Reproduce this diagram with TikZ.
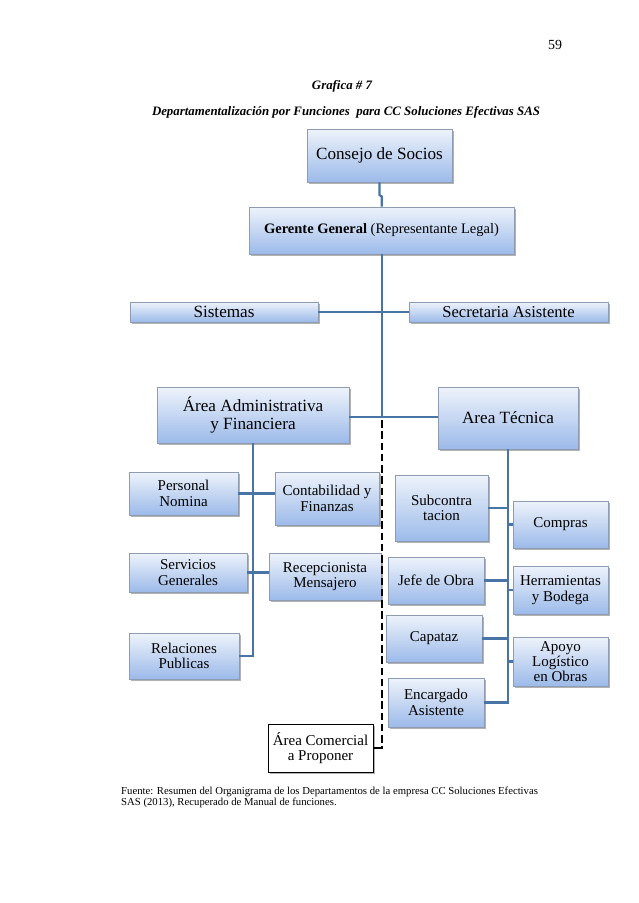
\documentclass[tikz,border=0pt]{standalone}
\usepackage{fontspec}
\setmainfont{Liberation Serif}
\usetikzlibrary{shadows}
\definecolor{btop}{HTML}{EEF3FB}
\definecolor{bbot}{HTML}{9CBAE9}
\definecolor{bdr}{HTML}{8F9BB0}
\definecolor{lnc}{HTML}{4874A6}
\newcommand\fsz[2]{\fontsize{#1}{#2}\selectfont}
\newcommand\obox[7][]{%
  \node[box,#1,minimum width={(#5-#3)*0.9331pt},minimum height={(#6-#4)*0.9331pt}] (#2) at ({(#3+#5)/2},{(#4+#6)/2}) {#7};}
\begin{document}
\begin{tikzpicture}[x=0.9331pt,y=-0.9331pt,
  box/.style={draw=bdr, line width=0.5pt, top color=btop, bottom color=bbot,
    align=center, inner sep=1pt,
    drop shadow={shadow xshift=1.6pt, shadow yshift=-1.6pt, fill=black, opacity=0.3},
    font=\fsz{14}{14.3}},
  big/.style={font=\fsz{16}{16.5}},
  wbox/.style={top color=white, bottom color=white, draw=black, line width=0.8pt},
  conn/.style={draw=lnc, line width=2pt},
  dsh/.style={draw=black, line width=2.2pt, dash pattern=on 7pt off 3.5pt},
  captxt/.style={font=\fsz{12}{14}\bfseries\itshape}]
\fill[white] (0,0) rectangle (638,903);
\useasboundingbox (0,0) rectangle (638,903);

\node[font=\fsz{13}{15}] (pg) at (555,45) {59};
\node[captxt] (g7) at (342,86) {Grafica \# 7};
\node[captxt] (tt) at (346,112) {Departamentalización por Funciones \ para CC Soluciones Efectivas SAS};

\obox[big]{cs}{307}{129}{452}{182}{Consejo de Socios}
\obox[font=\fsz{13.5}{15}]{gg}{249}{207}{514}{254}{\textbf{Gerente General} (Representante Legal)}
\obox[big]{sis}{130}{302}{318}{322}{Sistemas}
\obox[font=\fsz{15.5}{16}]{sec}{409}{302}{608}{322}{Secretaria Asistente}
\obox[big]{aad}{157}{387}{349}{443}{Área Administrativa\\y Financiera}
\obox[big]{ate}{438}{387}{578}{449}{Area Técnica}
\obox{pn}{129}{472}{238}{515}{Personal\\Nomina}
\obox{cf}{275}{472}{379}{525}{Contabilidad y\\Finanzas}
\obox{sg}{129}{553}{247}{592}{Servicios\\Generales}
\obox{rm}{269}{553}{381}{600}{Recepcionista\\Mensajero}
\obox{rp}{129}{633}{239}{679}{Relaciones\\Publicas}
\obox{sub}{395}{475}{488}{541}{Subcontra\\tacion}
\obox{comp}{513}{501}{608}{548}{Compras}
\obox{jo}{388}{557}{484}{604}{Jefe de Obra}
\obox{hb}{513}{566}{608}{614}{Herramientas\\y Bodega}
\obox{capz}{386}{615}{482}{662}{Capataz}
\obox{al}{513}{637}{608}{686}{Apoyo\\Logístico\\en Obras}
\obox{ea}{388}{678}{484}{727}{Encargado\\Asistente}
\obox[wbox]{com}{268}{724}{373}{772}{Área Comercial\\a Proponer}

% connectors
\coordinate (j0) at (379.5,195);
\coordinate (j0b) at (381.8,196.5);
\coordinate (j2) at (382,417);
\draw[conn] (cs.south -| j0) -- (j0) -- (j0b) -- (gg.north -| j0b);
\draw[conn] (gg.south -| j2) -- (j2);
\draw[conn] (sis.east) -- (sec.west);
\draw[conn] (aad.east |- j2) -- (ate.west |- j2);
\draw[dsh] (j2) ++(0,3) -- (j2 |- com.east);
\draw[draw=black, line width=1.7pt] (com.east) -- ([xshift=1.1pt]j2 |- com.east);

\draw[conn] (aad.south) -- (aad.south |- rp.east) -- (rp.east);
\draw[conn] (pn.east) -- (pn.east -| aad.south);
\draw[conn] (cf.west |- pn.east) -- (pn.east -| aad.south);
\draw[conn] (sg.east) -- (sg.east -| aad.south);
\draw[conn] (rm.west |- sg.east) -- (sg.east -| aad.south);

\draw[conn] (ate.south) -- (ate.south |- ea.east) -- (ea.east);
\draw[conn] (sub.east) -- (sub.east -| ate.south);
\draw[conn] (comp.west) -- (comp.west -| ate.south);
\draw[conn] (jo.east) -- (jo.east -| ate.south);
\draw[conn] (hb.west) -- (hb.west -| ate.south);
\draw[conn] (capz.east) -- (capz.east -| ate.south);
\draw[conn] (al.west) -- (al.west -| ate.south);

\node[anchor=west, align=left, font=\fsz{10}{10.9}, inner sep=0pt] (ft) at (121,797.5)
  {Fuente: Resumen del Organigrama de los Departamentos de la empresa CC Soluciones Efectivas\\SAS (2013), Recuperado de Manual de funciones.};
\end{tikzpicture}
\end{document}
